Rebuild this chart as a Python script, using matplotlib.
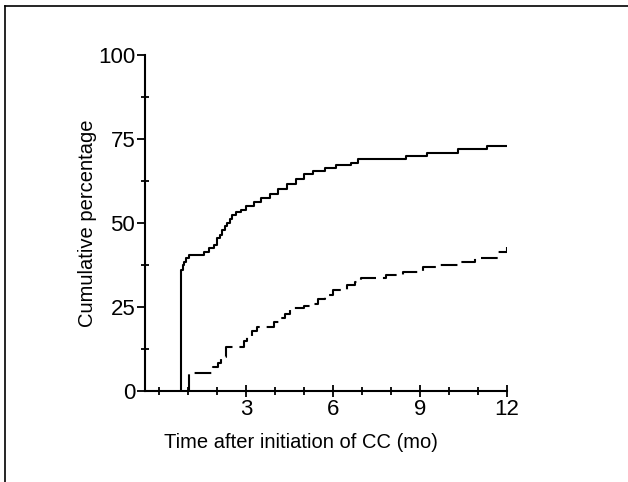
import matplotlib
matplotlib.use("Agg")
import matplotlib.pyplot as plt
from matplotlib.lines import Line2D
from matplotlib.ticker import MultipleLocator

plt.rcParams["font.family"] = ["Liberation Sans", "DejaVu Sans"]
plt.rcParams["lines.scale_dashes"] = False

# Cumulative percentage curves (step, value after each time point), months
solid_t = [0.73, 0.73, 0.76, 0.80, 0.84, 0.92, 1.01, 1.53, 1.71, 1.88, 2.00, 2.08,
           2.17, 2.25, 2.34, 2.43, 2.52, 2.65, 2.80, 3.00, 3.26, 3.50, 3.80, 4.10,
           4.40, 4.70, 5.00, 5.30, 5.70, 6.10, 6.61, 6.84, 8.51, 9.24, 10.30, 11.31, 12.0]
solid_y = [0, 34.5, 36.0, 37.5, 38.5, 39.5, 40.5, 41.5, 42.5, 43.4, 45.4, 46.5,
           48.0, 49.0, 50.0, 51.2, 52.4, 53.3, 54.0, 55.0, 56.3, 57.5, 58.5, 60.0,
           61.5, 63.0, 64.5, 65.5, 66.5, 67.3, 68.0, 69.0, 70.0, 70.9, 72.1, 72.9, 72.9]

dashed_t = [1.01, 1.01, 1.85, 2.02, 2.12, 2.28, 2.92, 3.03, 3.20, 3.38, 3.96, 4.15,
            4.35, 4.50, 4.99, 5.30, 5.46, 5.70, 6.00, 6.49, 6.75, 6.96, 7.82, 8.40,
            9.09, 9.60, 10.30, 10.90, 11.69, 12.0, 12.0]
dashed_y = [0, 5.5, 7.0, 8.2, 10.2, 13.2, 15.0, 16.2, 18.0, 19.0, 20.5, 21.7,
            23.0, 24.7, 25.3, 26.0, 27.5, 28.6, 30.0, 31.5, 32.5, 33.5, 34.5, 35.5,
            36.8, 37.5, 38.5, 39.5, 41.5, 41.5, 43.0]

y_ticks = [0, 25, 50, 75, 100]
x_ticks = [3, 6, 9, 12]

fig = plt.figure(figsize=(6.28, 4.82), dpi=100)
ax = fig.add_axes([145 / 628, 91 / 482, 362 / 628, 336 / 482])

ax.step(solid_t, solid_y, where="post", color="black", lw=1.5)
ax.step(dashed_t, dashed_y, where="post", color="black", lw=1.5,
        linestyle=(0, (12, 5)))

ax.set_xlim(-0.5, 12)
ax.set_ylim(0, 100)
for s in ["top", "right"]:
    ax.spines[s].set_visible(False)
for s in ["left", "bottom"]:
    ax.spines[s].set_linewidth(1.5)

ax.set_yticks(y_ticks)
ax.set_xticks(x_ticks)
ax.yaxis.set_minor_locator(MultipleLocator(12.5))
ax.xaxis.set_minor_locator(MultipleLocator(1))
ax.tick_params(axis="y", which="major", direction="out", length=6, width=1.3,
               labelsize=16, pad=1)
ax.tick_params(axis="y", which="minor", direction="inout", length=6, width=1.3)
ax.tick_params(axis="x", which="major", direction="inout", length=9, width=1.3,
               labelsize=16, pad=1)
ax.tick_params(axis="x", which="minor", direction="inout", length=6, width=1.3)

ax.set_ylabel("Cumulative percentage", fontsize=14.5)
ax.yaxis.set_label_coords(-0.133, 0.5)
ax.set_xlabel("Time after initiation of CC (mo)", fontsize=14.5)
ax.xaxis.set_label_coords(0.43, -0.125)

# outer frame of the scanned figure
fig.add_artist(Line2D([5 / 628, 5 / 628], [0, 1 - 6 / 482], color="black", lw=1.2))
fig.add_artist(Line2D([5 / 628, 1], [1 - 6 / 482, 1 - 6 / 482], color="black", lw=1.2))

fig.savefig("out.png", dpi=100)
